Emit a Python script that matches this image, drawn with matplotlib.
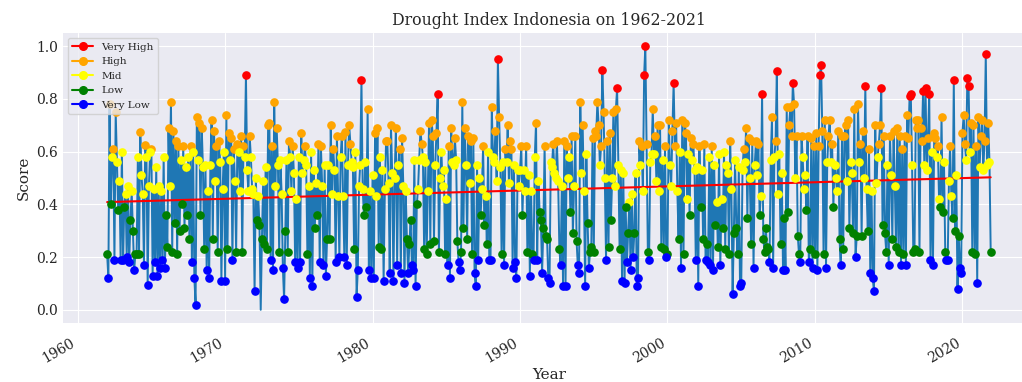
import numpy as np
import pandas as pd
import matplotlib

matplotlib.use("Agg")
import matplotlib.pyplot as plt
import matplotlib.dates as mdates
from matplotlib.lines import Line2D

# monthly drought index, January 1962 .. December 2021, one row per year
scores_1960s = [
    0.21, 0.12, 0.78, 0.40, 0.58, 0.61, 0.19, 0.75, 0.56, 0.38, 0.49, 0.19,
    0.60, 0.19, 0.39, 0.44, 0.20, 0.47, 0.18, 0.34, 0.45, 0.30, 0.15, 0.21,
    0.21, 0.58, 0.21, 0.675, 0.51, 0.44, 0.17, 0.625, 0.58, 0.095, 0.47, 0.60,
    0.61, 0.13, 0.46, 0.18, 0.54, 0.13, 0.47, 0.16, 0.45, 0.19, 0.58, 0.16,
    0.36, 0.24, 0.69, 0.47, 0.79, 0.22, 0.68, 0.33, 0.64, 0.21, 0.62, 0.30,
    0.57, 0.40, 0.62, 0.31, 0.54, 0.36, 0.58, 0.27, 0.62, 0.18, 0.60, 0.12,
    0.02, 0.73, 0.57, 0.71, 0.36, 0.69, 0.54, 0.23, 0.55, 0.15, 0.45, 0.12,
    0.55, 0.72, 0.27, 0.68, 0.49, 0.62, 0.22, 0.64, 0.56, 0.11, 0.46, 0.60,
]
scores_1970s = [
    0.11, 0.74, 0.23, 0.67, 0.57, 0.65, 0.19, 0.61, 0.49, 0.22, 0.63, 0.60,
    0.45, 0.66, 0.22, 0.62, 0.58, 0.89, 0.53, 0.45, 0.66, 0.58, 0.46, 0.44,
    0.07, 0.50, 0.34, 0.43, 0.32, 0.00, 0.27, 0.49, 0.25, 0.54, 0.23, 0.70,
    0.71, 0.19, 0.62, 0.15, 0.79, 0.47, 0.69, 0.55, 0.22, 0.57, 0.44, 0.16,
    0.04, 0.30, 0.57, 0.22, 0.64, 0.58, 0.45, 0.62, 0.52, 0.18, 0.42, 0.16,
    0.58, 0.18, 0.67, 0.52, 0.57, 0.62, 0.55, 0.21, 0.47, 0.12, 0.60, 0.09,
    0.53, 0.31, 0.48, 0.36, 0.63, 0.18, 0.62, 0.47, 0.17, 0.55, 0.13, 0.27,
    0.55, 0.27, 0.70, 0.44, 0.61, 0.53, 0.18, 0.66, 0.43, 0.20, 0.58, 0.66,
    0.43, 0.20, 0.675, 0.17, 0.55, 0.70, 0.63, 0.56, 0.54, 0.23, 0.60, 0.05,
    0.15, 0.47, 0.55, 0.87, 0.46, 0.36, 0.56, 0.39, 0.76, 0.15, 0.45, 0.12,
]
scores_1980s = [
    0.51, 0.12, 0.67, 0.43, 0.69, 0.24, 0.58, 0.23, 0.53, 0.11, 0.46, 0.64,
    0.64, 0.48, 0.14, 0.70, 0.52, 0.11, 0.50, 0.69, 0.17, 0.55, 0.61, 0.14,
    0.65, 0.47, 0.10, 0.45, 0.27, 0.14, 0.25, 0.34, 0.17, 0.15, 0.57, 0.09,
    0.40, 0.46, 0.57, 0.68, 0.63, 0.58, 0.23, 0.56, 0.21, 0.45, 0.71, 0.25,
    0.72, 0.66, 0.26, 0.55, 0.67, 0.82, 0.22, 0.50, 0.60, 0.47, 0.53, 0.21,
    0.42, 0.17, 0.62, 0.12, 0.69, 0.56, 0.55, 0.65, 0.57, 0.26, 0.18, 0.15,
    0.22, 0.79, 0.31, 0.69, 0.55, 0.27, 0.66, 0.48, 0.64, 0.21, 0.65, 0.14,
    0.09, 0.55, 0.19, 0.50, 0.36, 0.46, 0.62, 0.32, 0.43, 0.25, 0.60, 0.19,
    0.19, 0.77, 0.58, 0.56, 0.68, 0.49, 0.95, 0.73, 0.54, 0.21, 0.56, 0.17,
    0.61, 0.56, 0.70, 0.48, 0.64, 0.61, 0.16, 0.55, 0.18, 0.12, 0.53, 0.47,
]
scores_1990s = [
    0.53, 0.62, 0.36, 0.53, 0.45, 0.62, 0.22, 0.51, 0.13, 0.45, 0.21, 0.19,
    0.58, 0.71, 0.19, 0.49, 0.37, 0.34, 0.14, 0.31, 0.62, 0.28, 0.27, 0.12,
    0.10, 0.56, 0.54, 0.63, 0.52, 0.50, 0.64, 0.49, 0.23, 0.17, 0.47, 0.09,
    0.64, 0.09, 0.62, 0.50, 0.58, 0.37, 0.66, 0.29, 0.47, 0.66, 0.26, 0.17,
    0.14, 0.79, 0.52, 0.70, 0.45, 0.09, 0.59, 0.33, 0.16, 0.22, 0.24, 0.65,
    0.22, 0.68, 0.66, 0.79, 0.70, 0.55, 0.62, 0.91, 0.75, 0.50, 0.19, 0.64,
    0.24, 0.67, 0.34, 0.50, 0.75, 0.47, 0.76, 0.84, 0.55, 0.23, 0.53, 0.11,
    0.52, 0.10, 0.39, 0.18, 0.29, 0.41, 0.15, 0.44, 0.20, 0.29, 0.52, 0.09,
    0.12, 0.64, 0.55, 0.62, 0.45, 0.89, 1.00, 0.63, 0.22, 0.19, 0.56, 0.59,
    0.76, 0.59, 0.66, 0.49, 0.70, 0.45, 0.70, 0.24, 0.57, 0.23, 0.62, 0.20,
]
scores_2000s = [
    0.21, 0.72, 0.55, 0.47, 0.68, 0.86, 0.62, 0.71, 0.45, 0.27, 0.60, 0.16,
    0.72, 0.21, 0.71, 0.67, 0.42, 0.59, 0.36, 0.65, 0.57, 0.63, 0.53, 0.19,
    0.54, 0.09, 0.62, 0.39, 0.53, 0.27, 0.63, 0.19, 0.25, 0.18, 0.58, 0.17,
    0.62, 0.15, 0.55, 0.32, 0.41, 0.24, 0.59, 0.17, 0.42, 0.31, 0.60, 0.23,
    0.55, 0.52, 0.21, 0.64, 0.46, 0.06, 0.29, 0.57, 0.31, 0.21, 0.54, 0.09,
    0.10, 0.53, 0.61, 0.56, 0.69, 0.35, 0.65, 0.50, 0.25, 0.64, 0.16, 0.55,
    0.64, 0.51, 0.63, 0.36, 0.43, 0.82, 0.27, 0.22, 0.31, 0.24, 0.23, 0.18,
    0.57, 0.73, 0.16, 0.58, 0.64, 0.905, 0.44, 0.59, 0.25, 0.52, 0.15, 0.35,
    0.15, 0.77, 0.37, 0.70, 0.77, 0.66, 0.86, 0.78, 0.50, 0.66, 0.28, 0.21,
    0.18, 0.66, 0.58, 0.46, 0.51, 0.38, 0.66, 0.18, 0.23, 0.65, 0.16, 0.62,
]
scores_2010s = [
    0.21, 0.67, 0.15, 0.62, 0.89, 0.93, 0.68, 0.21, 0.72, 0.16, 0.56, 0.66,
    0.72, 0.56, 0.63, 0.39, 0.55, 0.50, 0.45, 0.68, 0.27, 0.17, 0.66, 0.23,
    0.66, 0.70, 0.49, 0.72, 0.31, 0.56, 0.52, 0.29, 0.76, 0.20, 0.28, 0.78,
    0.56, 0.63, 0.28, 0.68, 0.50, 0.85, 0.46, 0.30, 0.61, 0.14, 0.45, 0.12,
    0.07, 0.70, 0.48, 0.58, 0.63, 0.70, 0.84, 0.32, 0.66, 0.29, 0.22, 0.55,
    0.17, 0.66, 0.51, 0.27, 0.68, 0.47, 0.24, 0.69, 0.22, 0.66, 0.17, 0.61,
    0.21, 0.66, 0.17, 0.74, 0.65, 0.81, 0.82, 0.55, 0.22, 0.23, 0.72, 0.69,
    0.72, 0.22, 0.69, 0.64, 0.83, 0.55, 0.84, 0.53, 0.65, 0.82, 0.19, 0.60,
    0.17, 0.67, 0.65, 0.58, 0.62, 0.42, 0.39, 0.73, 0.37, 0.56, 0.22, 0.19,
    0.19, 0.49, 0.62, 0.43, 0.35, 0.87, 0.30, 0.51, 0.08, 0.28, 0.16, 0.14,
]
scores_2020s = [
    0.67, 0.74, 0.63, 0.57, 0.88, 0.85, 0.60, 0.71, 0.22, 0.70, 0.21, 0.62,
    0.10, 0.73, 0.54, 0.66, 0.72, 0.53, 0.64, 0.97, 0.55, 0.71, 0.56, 0.22,
]

class_names = ["Very High", "High", "Mid", "Low", "Very Low"]
class_colors = ["red", "orange", "yellow", "green", "blue"]

score = np.array(scores_1960s + scores_1970s + scores_1980s + scores_1990s
                 + scores_2000s + scores_2010s + scores_2020s)
dates = pd.date_range("1962-01-01", periods=len(score), freq="MS")
t = mdates.date2num(dates)

masks = [
    score > 0.8,
    (score > 0.6) & (score <= 0.8),
    (score > 0.4) & (score <= 0.6),
    (score > 0.2) & (score <= 0.4),
    (score > 0.0) & (score <= 0.2),
]

plt.style.use("seaborn-v0_8-darkgrid")
plt.rcParams["font.family"] = "DejaVu Serif"

fig = plt.figure(figsize=(10.22, 3.82), dpi=100)
ax = fig.add_axes([0.0616, 0.1545, 0.951, 0.759])

ax.plot(dates, score, color="#1f77b4", lw=1.4, zorder=2)

# linear trend over the whole record
coef = np.polyfit(t, score, 1)
ax.plot(dates, np.polyval(coef, t), color="red", lw=1.5, zorder=3)

for name, color, m in zip(class_names, class_colors, masks):
    ax.plot(dates[m], score[m], "o", color=color, ms=5.2, zorder=4)

handles = [Line2D([0], [0], color=c, marker="o", ms=5.5, lw=1.5) for c in class_colors]
ax.legend(handles, class_names, loc="upper left", fontsize=7.5, frameon=True,
          facecolor="#eaeaf2", edgecolor="#cccccc", framealpha=0.8)

ax.set_title("Drought Index Indonesia on 1962-2021", fontsize=11.3)
ax.set_xlabel("Year", fontsize=11, labelpad=2)
ax.set_ylabel("Score", fontsize=11)
ax.tick_params(labelsize=10)
ax.tick_params(axis="x", pad=9)
ax.xaxis.set_major_locator(mdates.YearLocator(10))
ax.xaxis.set_major_formatter(mdates.DateFormatter("%Y"))
for lbl in ax.get_xticklabels():
    lbl.set_rotation(30)
    lbl.set_ha("right")

fig.savefig("out.png", dpi=100)
